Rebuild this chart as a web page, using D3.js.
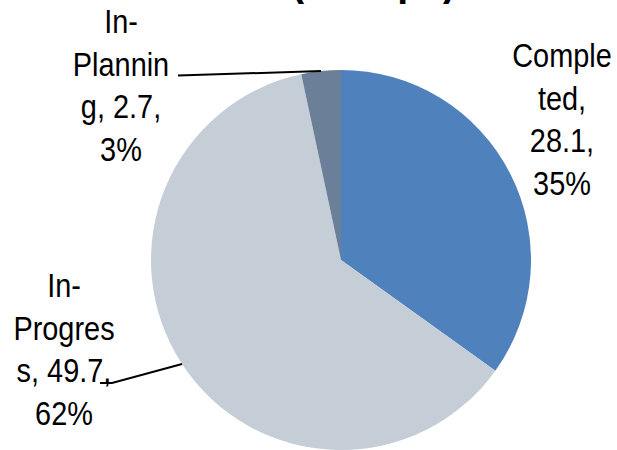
<!DOCTYPE html>
<html>
<head>
<meta charset="utf-8">
<script src="https://cdn.jsdelivr.net/npm/d3@7"></script>
<style>
  html, body { margin: 0; padding: 0; background: #ffffff; }
  svg { display: block; }
</style>
</head>
<body>
<svg id="chart" width="617" height="450"></svg>
<script>
// Project status breakdown
const categories = ["Completed", "In-Progress", "In-Planning"];
const values = [28.1, 49.7, 2.7];
const colors = ["#4F81BD", "#C5CDD7", "#6C7F99"];
const chartTitle = "(Groups)";

const W = 617, H = 450;
const cx = 341, cy = 260, radius = 190;
const fontSize = 34, squeeze = 0.85, lineH = 42.7, wrapWidth = 103;

// label placement: centre x, first baseline, leader end points
const labelLayout = {
  "Completed":   { x: 562, y: 67,  leader: null },
  "In-Progress": { x: 64,  y: 297, leader: [[112, 383], [100, 383]] },
  "In-Planning": { x: 121, y: 33,  leader: [[178, 75.5]] }
};

const svg = d3.select("#chart");
const total = d3.sum(values);
const data = categories.map((c, i) => ({ name: c, value: values[i], color: colors[i] }));

const pie = d3.pie().sort(null).value(d => d.value).startAngle(0).endAngle(2 * Math.PI);
const arc = d3.arc().innerRadius(0).outerRadius(radius);
const arcs = pie(data);

const g = svg.append("g").attr("transform", `translate(${cx},${cy})`);
g.selectAll("path.slice")
  .data(arcs)
  .join("path")
  .attr("class", "slice")
  .attr("d", arc)
  .attr("fill", d => d.data.color);

// title (sits mostly above the visible area)
svg.append("text")
  .attr("transform", `translate(291,-6) scale(${squeeze},1)`)
  .attr("font-family", "Liberation Sans, Arial, sans-serif")
  .attr("font-weight", "bold")
  .attr("font-size", 46)
  .attr("fill", "#000")
  .text(chartTitle);

// measure text width in the label font
const probe = svg.append("text")
  .attr("font-family", "Liberation Sans, Arial, sans-serif")
  .attr("font-size", fontSize)
  .attr("visibility", "hidden");
function textW(s) { probe.text(s); return probe.node().getComputedTextLength() * squeeze; }

// wrap a label: break after spaces and hyphens, split words that are too wide
function wrap(str) {
  const tokens = str.match(/[^ \-]+-?|\s+/g).filter(t => t.trim() !== "");
  const lines = [];
  let cur = "";
  tokens.forEach(tok => {
    const sep = (cur === "" || cur.endsWith("-")) ? "" : " ";
    if (textW(cur + sep + tok) <= wrapWidth) { cur = cur + sep + tok; return; }
    if (cur !== "") { lines.push(cur); cur = ""; }
    if (textW(tok) <= wrapWidth) { cur = tok; return; }
    let piece = "";
    for (const ch of tok) {
      if (textW(piece + ch) <= wrapWidth) piece += ch;
      else { lines.push(piece); piece = ch; }
    }
    cur = piece;
  });
  if (cur !== "") lines.push(cur);
  return lines;
}

arcs.forEach(a => {
  const d = a.data;
  const pct = Math.round(d.value / total * 100);
  const label = `${d.name}, ${d.value}, ${pct}%`;
  const lay = labelLayout[d.name];
  const lines = wrap(label);

  if (lay.leader) {
    const mid = (a.startAngle + a.endAngle) / 2;
    const start = [cx + radius * Math.sin(mid), cy - radius * Math.cos(mid)];
    svg.append("path")
      .attr("d", d3.line()([start, ...lay.leader]))
      .attr("fill", "none")
      .attr("stroke", "#000")
      .attr("stroke-width", 2);
  }

  const t = svg.append("text")
    .attr("transform", `translate(${lay.x},0) scale(${squeeze},1)`)
    .attr("font-family", "Liberation Sans, Arial, sans-serif")
    .attr("font-size", fontSize)
    .attr("fill", "#000")
    .attr("text-anchor", "middle");
  lines.forEach((ln, i) => {
    t.append("tspan").attr("x", 0).attr("y", lay.y + i * lineH).text(ln);
  });
});
probe.remove();
</script>
</body>
</html>
